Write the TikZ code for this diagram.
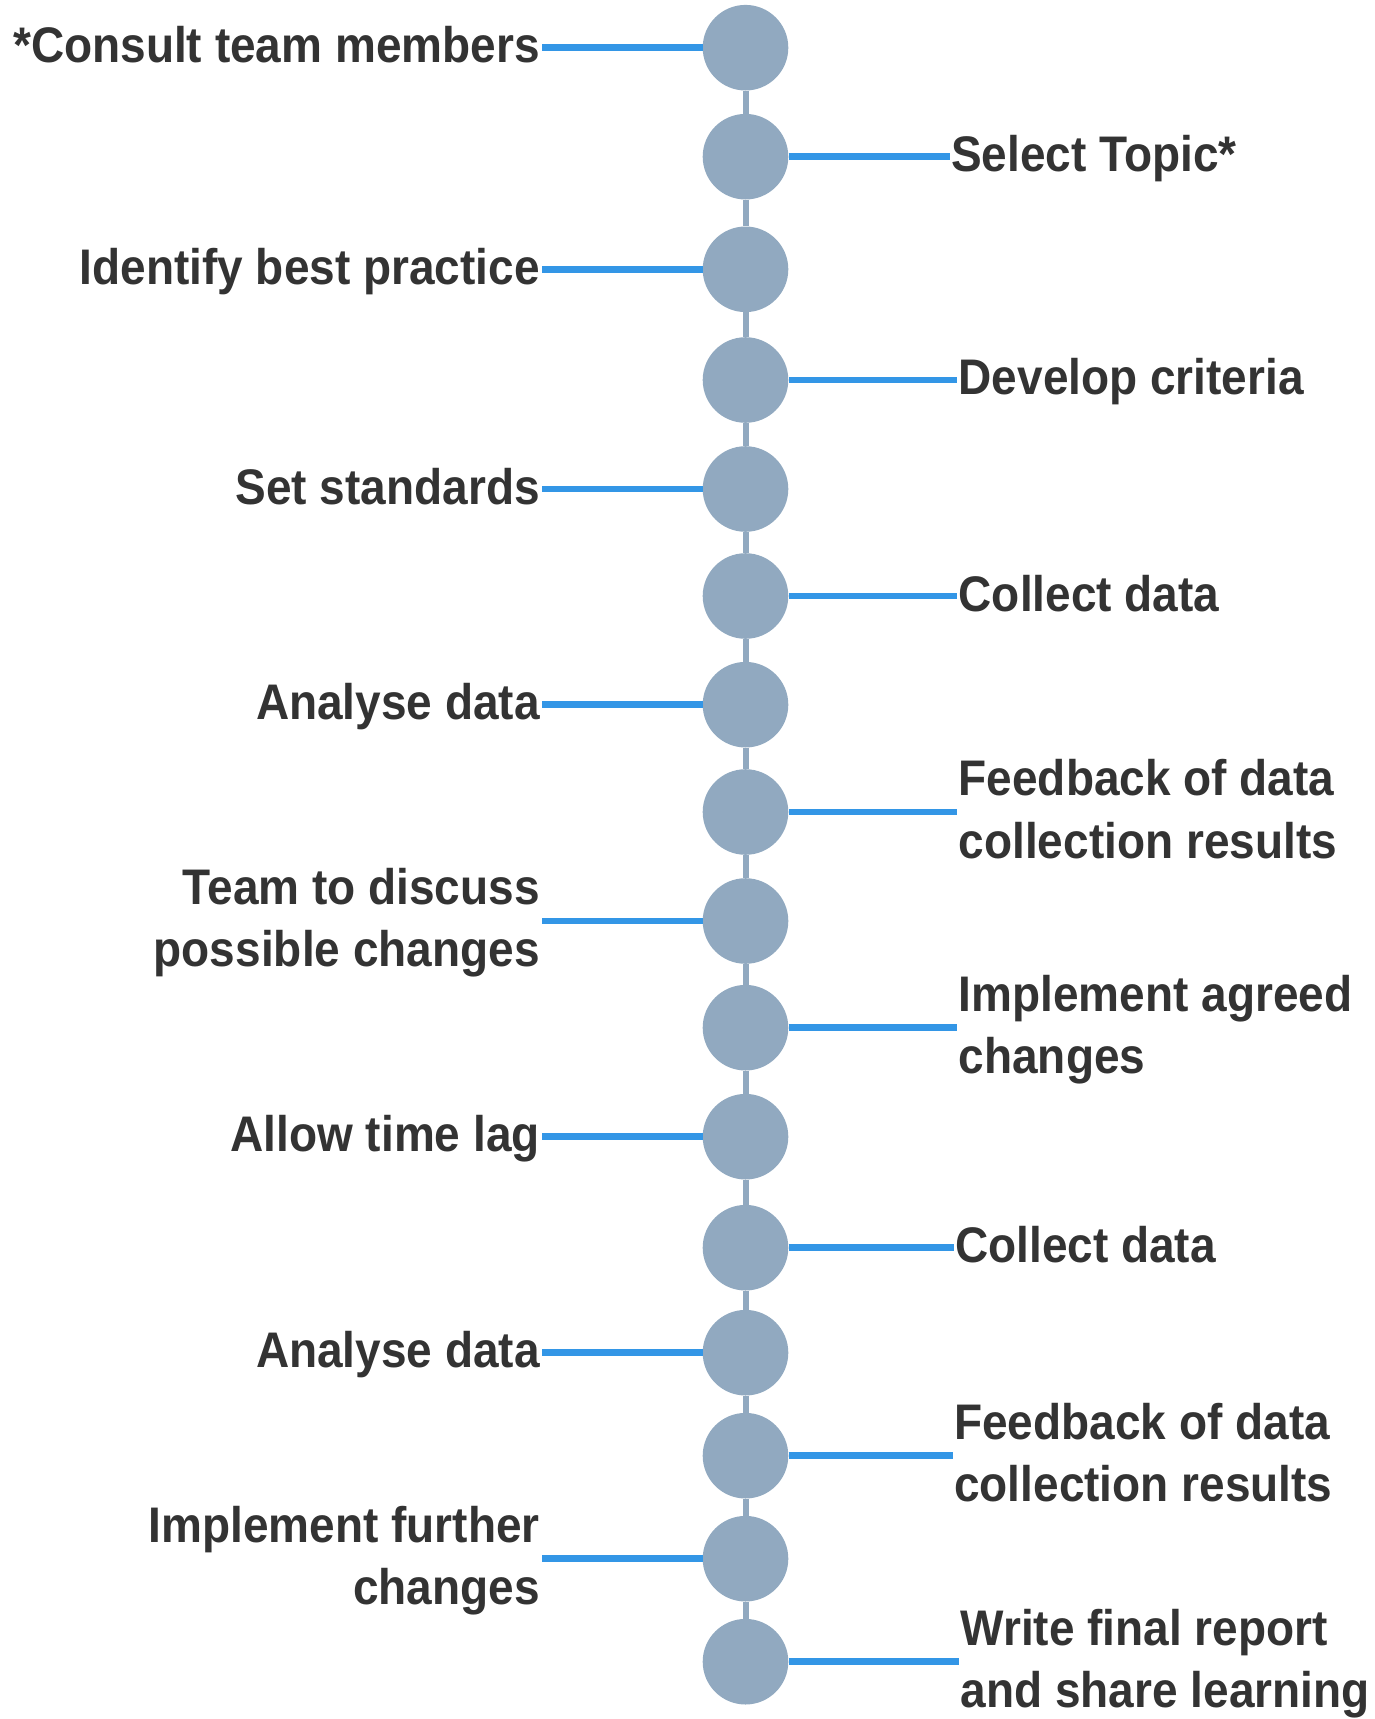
\documentclass[tikz,border=0pt]{standalone}
\usepackage{fontspec}
\setmainfont[FakeStretch=0.92]{Liberation Sans}
\definecolor{dotgrey}{HTML}{91A9C0}
\definecolor{linkblue}{HTML}{3396E6}
\definecolor{txt}{HTML}{333333}
\newcommand\tstrut{\rule[-10pt]{0pt}{50pt}}

\begin{document}
\begin{tikzpicture}[x=1pt,y=-1pt,
  dot/.style={circle,fill=dotgrey,inner sep=0pt,minimum size=85.6pt},
  spine/.style={draw=dotgrey,line width=6pt},
  link/.style={draw=linkblue,line width=6.5pt},
  lab/.style={inner sep=1.5pt,text=txt,font=\fontsize{50pt}{62.5pt}\selectfont\bfseries},
  labl/.style={lab,anchor=east,align=right},
  labr/.style={lab,anchor=west,align=left}]

\useasboundingbox (0,0) rectangle (1374,1719);

\node [dot] (c1) at (745.5,47.7) {};
\node [dot] (c2) at (745.5,156.7) {};
\node [dot] (c3) at (745.5,269.3) {};
\node [dot] (c4) at (745.5,380) {};
\node [dot] (c5) at (745.5,489) {};
\node [dot] (c6) at (745.5,596) {};
\node [dot] (c7) at (745.5,704.7) {};
\node [dot] (c8) at (745.5,812) {};
\node [dot] (c9) at (745.5,921) {};
\node [dot] (c10) at (745.5,1027.7) {};
\node [dot] (c11) at (745.5,1136.7) {};
\node [dot] (c12) at (745.5,1247.7) {};
\node [dot] (c13) at (745.5,1352.7) {};
\node [dot] (c14) at (745.5,1455.7) {};
\node [dot] (c15) at (745.5,1558.7) {};
\node [dot] (c16) at (745.5,1661.7) {};

\draw [spine] (c1)--(c2) (c2)--(c3) (c3)--(c4) (c4)--(c5) (c5)--(c6)
  (c6)--(c7) (c7)--(c8) (c8)--(c9) (c9)--(c10) (c10)--(c11) (c11)--(c12)
  (c12)--(c13) (c13)--(c14) (c14)--(c15) (c15)--(c16);

% left side
\node [labl] (l1) at (541.5,47.7) {\tstrut*Consult team members};
\node [labl] (l3) at (541.5,269.3) {\tstrut Identify best practice};
\node [labl] (l5) at (541.5,489) {\tstrut Set standards};
\node [labl] (l7) at (541.5,704.7) {\tstrut Analyse data};
\node [labl] (l9) at (541.5,921) {\tstrut Team to discuss\\\tstrut possible changes};
\node [labl] (l11) at (541.5,1136.7) {\tstrut Allow time lag};
\node [labl] (l13) at (541.5,1352.7) {\tstrut Analyse data};
\node [labl] (l15) at (541.5,1558.7) {\tstrut Implement further\\\tstrut changes};

% right side
\node [labr] (l2) at (949.5,156.7) {\tstrut Select Topic*};
\node [labr] (l4) at (957,380) {\tstrut Develop criteria};
\node [labr] (l6) at (957,596) {\tstrut Collect data};
\node [labr] (l8) at (957,812) {\tstrut Feedback of data\\\tstrut collection results};
\node [labr] (l10) at (957,1027.7) {\tstrut Implement agreed\\\tstrut changes};
\node [labr] (l12) at (953.5,1247.7) {\tstrut Collect data};
\node [labr] (l14) at (952.5,1455.7) {\tstrut Feedback of data\\\tstrut collection results};
\node [labr] (l16) at (959,1661.7) {\tstrut Write final report\\\tstrut and share learning};

\draw [link] (c1)--(l1) (c3)--(l3) (c5)--(l5) (c7)--(l7)
  (c9)--(l9) (c11)--(l11) (c13)--(l13) (c15)--(l15);
\draw [link] (c2)--(l2) (c4)--(l4) (c6)--(l6) (c8)--(l8)
  (c10)--(l10) (c12)--(l12) (c14)--(l14) (c16)--(l16);

\end{tikzpicture}
\end{document}
